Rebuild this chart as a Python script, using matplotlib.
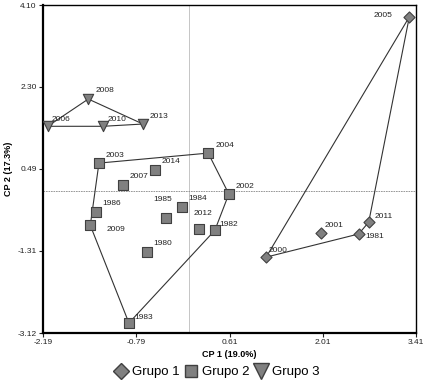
import matplotlib.pyplot as plt
from matplotlib.lines import Line2D

plt.rcParams["font.family"] = ["Liberation Sans", "DejaVu Sans"]

# Grupo 1 (diamonds)
G1_YEARS = ["2005", "2011", "1981", "2001", "2000"]
G1_X = [3.31, 2.70, 2.55, 1.98, 1.16]
G1_Y = [3.84, -0.68, -0.94, -0.92, -1.45]
G1_HULL = ["2005", "2000", "1981", "2011", "2005"]

# Grupo 2 (squares)
G2_YEARS = ["2003", "2014", "2007", "2004", "2002", "1982", "1986",
            "2009", "1985", "1984", "2012", "1980", "1983"]
G2_X = [-1.35, -0.51, -0.99, 0.29, 0.60, 0.39, -1.39,
        -1.48, -0.34, -0.10, 0.15, -0.63, -0.90]
G2_Y = [0.62, 0.47, 0.14, 0.84, -0.06, -0.86, -0.46,
        -0.75, -0.59, -0.35, -0.83, -1.34, -2.90]
G2_HULL = ["2003", "2004", "2002", "1982", "1983", "2009", "2003"]

# Grupo 3 (triangles)
G3_YEARS = ["2008", "2006", "2010", "2013"]
G3_X = [-1.51, -2.12, -1.29, -0.69]
G3_Y = [2.03, 1.43, 1.43, 1.48]
G3_HULL = ["2006", "2008", "2013", "2010", "2006"]

X_TICKS = [-2.19, -0.79, 0.61, 2.01, 3.41]
Y_TICKS = [-3.12, -1.31, 0.49, 2.30, 4.10]

# label offsets in points (dx, dy)
OFFSETS = {
    "2005": (-26, 0), "2011": (4, 3), "1981": (5, -3), "2001": (3, 4),
    "2000": (2, 4), "1982": (3, 3), "1983": (4, 3), "2004": (5, 4.5),
    "2002": (5, 4), "2003": (4.5, 4.5), "2014": (5, 5), "2007": (4.5, 5),
    "1986": (4.5, 5), "2009": (12, -4), "1985": (-9, 12), "1984": (4.5, 5),
    "2012": (-4, 10), "1980": (4.5, 5), "2008": (5, 5), "2006": (3, 4),
    "2010": (3, 4), "2013": (5, 4),
}

MARKER_FACE = "#808080"
MARKER_EDGE = "#404040"
LINE_COLOR = "#333333"


def draw_group(ax, years, xs, ys, hull, marker, size):
    pos = {yr: (x, y) for yr, x, y in zip(years, xs, ys)}
    hx = [pos[yr][0] for yr in hull]
    hy = [pos[yr][1] for yr in hull]
    ax.plot(hx, hy, color=LINE_COLOR, lw=0.8, zorder=2)
    ax.scatter(xs, ys, marker=marker, s=size, facecolor=MARKER_FACE,
               edgecolor=MARKER_EDGE, linewidth=0.8, zorder=3)
    for yr, x, y in zip(years, xs, ys):
        ax.annotate(yr, (x, y), xytext=OFFSETS[yr], textcoords="offset points",
                    fontsize=6, color="#222222", zorder=4)


def main() -> None:
    fig = plt.figure(figsize=(4.25, 3.83), dpi=100)
    ax = fig.add_axes([43 / 425, 1 - 333 / 383, 373 / 425, 328 / 383])

    ax.axvline(0, color="#bbbbbb", lw=0.6, zorder=1)
    ax.axhline(0, color="#888888", lw=0.6, ls=(0, (2, 1)), zorder=1)

    draw_group(ax, G1_YEARS, G1_X, G1_Y, G1_HULL, "D", 32)
    draw_group(ax, G2_YEARS, G2_X, G2_Y, G2_HULL, "s", 42)
    draw_group(ax, G3_YEARS, G3_X, G3_Y, G3_HULL, "v", 55)

    ax.set_xlim(X_TICKS[0], X_TICKS[-1])
    ax.set_ylim(Y_TICKS[0], Y_TICKS[-1])
    ax.set_xticks(X_TICKS)
    ax.set_yticks(Y_TICKS)
    ax.set_xticklabels([f"{v:.2f}" for v in X_TICKS])
    ax.set_yticklabels([f"{v:.2f}" for v in Y_TICKS])
    ax.tick_params(labelsize=6, length=3, width=0.8, colors="#222222", pad=1.5)

    for side in ["left", "bottom"]:
        ax.spines[side].set_linewidth(1.6)
    for side in ["top", "right"]:
        ax.spines[side].set_linewidth(1.0)

    ax.set_xlabel("CP 1 (19.0%)", fontsize=6.5, fontweight="bold", labelpad=3)
    ax.set_ylabel("CP 2 (17.3%)", fontsize=6.5, fontweight="bold", labelpad=3)

    handles = [
        Line2D([], [], ls="", marker="D", ms=8, mfc=MARKER_FACE, mec=MARKER_EDGE),
        Line2D([], [], ls="", marker="s", ms=9, mfc=MARKER_FACE, mec=MARKER_EDGE),
        Line2D([], [], ls="", marker="v", ms=11, mfc=MARKER_FACE, mec=MARKER_EDGE),
    ]
    fig.legend(handles, ["Grupo 1", "Grupo 2", "Grupo 3"], loc="center",
               bbox_to_anchor=(0.51, 1 - 372 / 383), ncol=3, frameon=False,
               fontsize=9.5, handletextpad=0.3, columnspacing=0.4,
               handlelength=1.0)

    fig.savefig("out.png", dpi=100)


if __name__ == "__main__":
    main()
